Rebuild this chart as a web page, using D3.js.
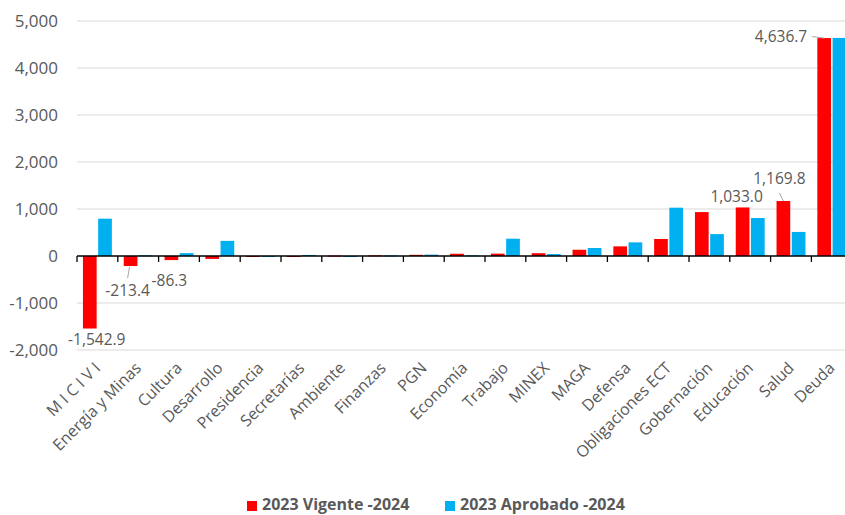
<!DOCTYPE html>
<html>
<head>
<meta charset="utf-8">
<script src="https://cdn.jsdelivr.net/npm/d3@7"></script>
<style>
  body { margin: 0; background: #fff; }
  text { font-family: "Open Sans", Lato, sans-serif; fill: #595959; }
</style>
</head>
<body>
<div id="chart"></div>
<script>
const categories = ['M I C I V I', 'Energía y Minas', 'Cultura', 'Desarrollo', 'Presidencia', 'Secretarías',
    'Ambiente', 'Finanzas', 'PGN', 'Economía', 'Trabajo', 'MINEX', 'MAGA', 'Defensa',
    'Obligaciones ECT', 'Gobernación', 'Educación', 'Salud', 'Deuda']
const series = ['2023 Vigente -2024', '2023 Aprobado -2024']
const vigente = [-1542.9, -213.4, -86.3, -62, -14, -12, 8, 14, 25, 48, 50, 60, 133, 205,
    362, 934, 1033.0, 1169.8, 4636.7]
const aprobado = [794, 15, 62, 322, -12, 22, -22, 12, 30, 14, 368, 42, 170, 290,
    1028, 466, 808, 512, 4640]
const yTicks = [-2000, -1000, 0, 1000, 2000, 3000, 4000, 5000]
// labelled red bars
const labelled = ['M I C I V I', 'Energía y Minas', 'Cultura', 'Educación', 'Salud', 'Deuda']

const colors = ['#ff0000', '#00b0f0']
const width = 845
const height = 515

const svg = d3.create('svg')
    .attr('width', width)
    .attr('height', height)

const x = d3.scaleBand()
    .domain(categories)
    .range([77, 77 + 19 * 40.8])

const xs = d3.scaleBand()
    .domain(series)
    .range([0, x.bandwidth()])
    .paddingInner(0.1)
    .paddingOuter(0.39)

const y = d3.scaleLinear()
    .domain([-2000, 5000])
    .range([350, 21])

const hyphen = s => s.replace(/\u2212/g, '-')

/* grid */
svg.append('g')
    .selectAll('line')
    .data(yTicks.filter(d => d !== 0))
    .enter()
    .append('line')
    .attr('x1', 77)
    .attr('x2', width)
    .attr('y1', d => y(d))
    .attr('y2', d => y(d))
    .attr('stroke', '#d9d9d9')
    .attr('stroke-width', 1.2)

/* y labels */
svg.append('g')
    .selectAll('text')
    .data(yTicks)
    .enter()
    .append('text')
    .attr('x', 58)
    .attr('y', d => y(d) + 6)
    .attr('text-anchor', 'end')
    .style('font-size', '17px')
    .text(d => hyphen(d3.format(',')(d)))

/* bars */
const rows = categories.map((c, i) => ({ c, v: [vigente[i], aprobado[i]] }))
const groups = svg.append('g')
    .selectAll('g')
    .data(rows)
    .enter()
    .append('g')
    .attr('transform', d => `translate(${x(d.c)},0)`)

groups.selectAll('rect')
    .data(d => d.v.map((v, k) => ({ s: series[k], v, k })))
    .enter()
    .append('rect')
    .attr('x', d => xs(d.s))
    .attr('width', xs.bandwidth())
    .attr('y', d => Math.min(y(d.v), y(0)))
    .attr('height', d => Math.max(1, Math.abs(y(d.v) - y(0))))
    .attr('fill', d => colors[d.k])

/* zero axis with ticks */
const axis = svg.append('g')
axis.append('line')
    .attr('x1', 77).attr('x2', width)
    .attr('y1', y(0)).attr('y2', y(0))
    .attr('stroke', '#000').attr('stroke-width', 1.3)
axis.selectAll('.tk')
    .data(categories.map(c => x(c)).concat([x.range()[1]]))
    .enter()
    .append('line')
    .attr('x1', d => d).attr('x2', d => d)
    .attr('y1', y(0)).attr('y2', y(0) + 6)
    .attr('stroke', '#000').attr('stroke-width', 1.3)

/* category labels */
svg.append('g')
    .selectAll('text')
    .data(categories)
    .enter()
    .append('text')
    .attr('transform', d => `translate(${x(d) + x.bandwidth() / 2 + 4},${369}) rotate(-45)`)
    .attr('text-anchor', 'end')
    .style('font-size', '16px')
    .text(d => d)

/* data labels */
const fmt = v => hyphen(d3.format(',.1f')(v))
const nudge = {
    'M I C I V I': { dx: 7, dy: 16, anchor: 'middle' },
    'Energía y Minas': { dx: -3, dy: 30, anchor: 'middle', lead: [[-1, 1], [-3, 12]] },
    'Cultura': { dx: -2, dy: 26, anchor: 'middle' },
    'Educación': { dx: -6, dy: -5, anchor: 'middle' },
    'Salud': { dx: -4, dy: -17, anchor: 'middle', lead: [[-4, -8], [0, 0]] },
    'Deuda': { dx: -17, dy: 4, anchor: 'end', lead: [[-12, -1.5], [0, 0]] }
}
labelled.forEach(c => {
    const i = categories.indexOf(c)
    const v = vigente[i]
    const bx = x(c) + xs(series[0]) + xs.bandwidth() / 2
    const by = y(v)
    const n = nudge[c]
    if (n.lead) {
        svg.append('line')
            .attr('x1', bx + n.lead[0][0]).attr('y1', by + n.lead[0][1])
            .attr('x2', bx + n.lead[1][0]).attr('y2', by + n.lead[1][1])
            .attr('stroke', '#a6a6a6').attr('stroke-width', 1)
    }
    svg.append('text')
        .attr('x', bx + n.dx)
        .attr('y', by + n.dy)
        .attr('text-anchor', n.anchor)
        .style('font-size', '15.5px')
        .text(fmt(v))
})

/* legend */
const legend = svg.append('g')
const legendX = [247, 445]
series.forEach((s, k) => {
    legend.append('rect')
        .attr('x', legendX[k]).attr('y', 501)
        .attr('width', 10).attr('height', 10)
        .attr('fill', colors[k])
    legend.append('text')
        .attr('x', legendX[k] + 15)
        .attr('y', 510)
        .style('font-size', '16px')
        .style('font-weight', 'bold')
        .text(s)
})

document.getElementById('chart').appendChild(svg.node())
</script>
</body>
</html>
